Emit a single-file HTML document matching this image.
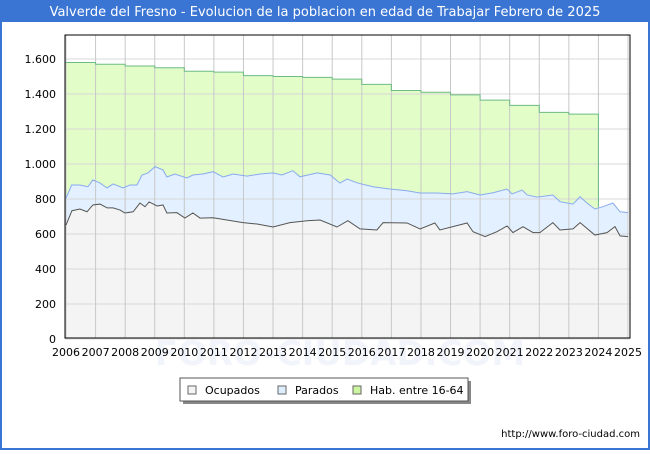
<!DOCTYPE html>
<html><head><meta charset="utf-8"><style>
body{margin:0;width:650px;height:450px;overflow:hidden;font-family:"DejaVu Sans","Liberation Sans",sans-serif;}
</style></head><body>
<svg id="c" width="650" height="450" xmlns="http://www.w3.org/2000/svg">
<rect x="0" y="0" width="650" height="450" fill="#3a75d4"/>
<rect x="2" y="22" width="646" height="426" fill="#ffffff"/>
<text x="325" y="16" text-anchor="middle" fill="#ffffff" font-size="13">Valverde del Fresno - Evolucion de la poblacion en edad de Trabajar Febrero de 2025</text>
<text x="340" y="365" text-anchor="middle" fill="#f2f4fb" font-size="34" font-weight="bold">FORO-CIUDAD.COM</text>
<g id="plot"></g>
<g>
<rect x="183" y="381" width="288" height="23" fill="#888"/>
<rect x="180" y="378" width="288" height="23" fill="#fff" stroke="#555"/>
<rect x="188" y="386" width="8" height="8" fill="#f4f4f4" stroke="#666"/>
<text x="205" y="394" font-size="11" fill="#000">Ocupados</text>
<rect x="278" y="386" width="8" height="8" fill="#ddeeff" stroke="#666"/>
<text x="295" y="394" font-size="11" fill="#000">Parados</text>
<rect x="353" y="386" width="8" height="8" fill="#ccf5a0" stroke="#666"/>
<text x="370" y="394" font-size="11" fill="#000">Hab. entre 16-64</text>
</g>
<text x="640" y="437" text-anchor="end" font-size="10" fill="#000">http://www.foro-ciudad.com</text>
</svg>
<script>
const yTicks=[0,200,400,600,800,1000,1200,1400,1600];
const yTickLabels=["0","200","400","600","800","1.000","1.200","1.400","1.600"];
const xYears=[2006,2007,2008,2009,2010,2011,2012,2013,2014,2015,2016,2017,2018,2019,2020,2021,2022,2023,2024,2025];
const habYears=[2006,2007,2008,2009,2010,2011,2012,2013,2014,2015,2016,2017,2018,2019,2020,2021,2022,2023];
const habValues=[1580,1570,1560,1550,1530,1525,1505,1500,1495,1485,1455,1420,1410,1395,1365,1335,1295,1285];
const paradosDates=[2006.00,2006.19,2006.47,2006.74,2006.91,2007.15,2007.39,2007.59,2007.93,2008.16,2008.40,2008.57,2008.77,2009.01,2009.28,2009.41,2009.68,2010.09,2010.29,2010.63,2010.97,2011.31,2011.65,2012.12,2012.56,2013.00,2013.30,2013.67,2013.91,2014.49,2014.93,2015.26,2015.50,2015.87,2016.38,2016.95,2017.53,2017.97,2018.54,2019.08,2019.56,2020.00,2020.44,2020.91,2021.08,2021.42,2021.59,2021.92,2022.46,2022.70,2023.14,2023.38,2023.61,2023.88,2024.15,2024.49,2024.73,2025.00];
const paradosValues=[804,880,880,870,909,891,863,886,863,880,880,937,949,985,966,926,943,920,937,943,956,926,943,931,943,949,937,962,927,949,937,891,914,891,870,857,847,834,834,829,842,823,836,857,829,851,823,811,823,785,771,813,777,743,756,777,727,722];
const ocupadosDates=[2006.00,2006.20,2006.47,2006.71,2006.91,2007.15,2007.39,2007.59,2007.83,2007.99,2008.27,2008.50,2008.67,2008.81,2009.08,2009.28,2009.41,2009.75,2010.02,2010.29,2010.53,2010.97,2011.44,2011.98,2012.46,2013.00,2013.57,2014.15,2014.59,2015.16,2015.53,2015.94,2016.51,2016.72,2017.53,2017.97,2018.47,2018.64,2019.56,2019.76,2020.17,2020.57,2020.91,2021.11,2021.45,2021.79,2022.02,2022.46,2022.70,2023.14,2023.38,2023.88,2024.29,2024.56,2024.73,2025.00];
const ocupadosValues=[651,733,743,727,766,771,749,749,737,720,727,777,756,783,760,766,720,722,691,720,691,693,680,665,657,640,665,676,680,640,676,629,623,665,663,629,663,623,663,613,585,613,646,608,642,608,608,665,623,629,665,594,608,642,589,585];

const L=66,R=628,T=35,B=339;
const xs=d=>L+(d-2006)*(R-L)/19;
const ys=v=>B-v*0.175;
const NS="http://www.w3.org/2000/svg";
const g=document.getElementById('plot');
function mk(t,a){const e=document.createElementNS(NS,t);for(const k in a)e.setAttribute(k,a[k]);g.appendChild(e);return e;}

const bg=mk('rect',{x:65,y:35,width:565,height:303,fill:'#fff'});



// green area
let hp=`M${xs(2006)},${ys(0)}`;
habYears.forEach((yr,i)=>{hp+=` L${xs(yr)},${ys(habValues[i])} L${xs(yr+1)},${ys(habValues[i])}`;});
hp+=` L${xs(2024)},${ys(0)} Z`;
const ha=mk('path',{d:hp,fill:'#e2fdc8',stroke:'none'});



function areaPath(ds,vs){let p=`M${xs(ds[0])},${ys(0)}`;ds.forEach((d,i)=>p+=` L${xs(d)},${ys(vs[i])}`);return p+` L${xs(ds[ds.length-1])},${ys(0)} Z`;}
function linePath(ds,vs){return ds.map((d,i)=>(i?'L':'M')+xs(d)+','+ys(vs[i])).join(' ');}
const pa=mk('path',{d:areaPath(paradosDates,paradosValues),fill:'#e2f0ff'});


const oa=mk('path',{d:areaPath(ocupadosDates,ocupadosValues),fill:'#f4f4f4'});



// grid
yTicks.forEach((v,i)=>{
 const l=mk('line',{x1:65,x2:630,y1:ys(v),y2:ys(v),stroke:'#d8d8d8','stroke-width':1});
 
 
 const t=mk('text',{x:56,y:ys(v)+4,'text-anchor':'end','font-size':11,fill:'#000'});
 t.textContent=yTickLabels[i];
 
 
});
xYears.forEach(yr=>{
 const l=mk('line',{x1:xs(yr),x2:xs(yr),y1:35,y2:338,stroke:'#c8c8c8','stroke-width':1});
 
 
 const t=mk('text',{x:xs(yr),y:356,'text-anchor':'middle','font-size':11,fill:'#000'});
 t.textContent=yr;
 
 
});

// lines
let hl=`M${xs(2006)},${ys(habValues[0])}`;
habYears.forEach((yr,i)=>{hl+=` L${xs(yr)},${ys(habValues[i])} L${xs(yr+1)},${ys(habValues[i])}`;});
hl+=` L${xs(2024)},${ys(paradosValues[54])}`;
const hline=mk('path',{d:hl,fill:'none',stroke:'#6dbb85','stroke-width':1});


const pl=mk('path',{d:linePath(paradosDates,paradosValues),fill:'none',stroke:'#88aaee','stroke-width':1});


const ol=mk('path',{d:linePath(ocupadosDates,ocupadosValues),fill:'none',stroke:'#555','stroke-width':1});



const fr=mk('rect',{x:65,y:35,width:565,height:303,fill:'none',stroke:'#000','stroke-width':1});


</script>
</body></html>
